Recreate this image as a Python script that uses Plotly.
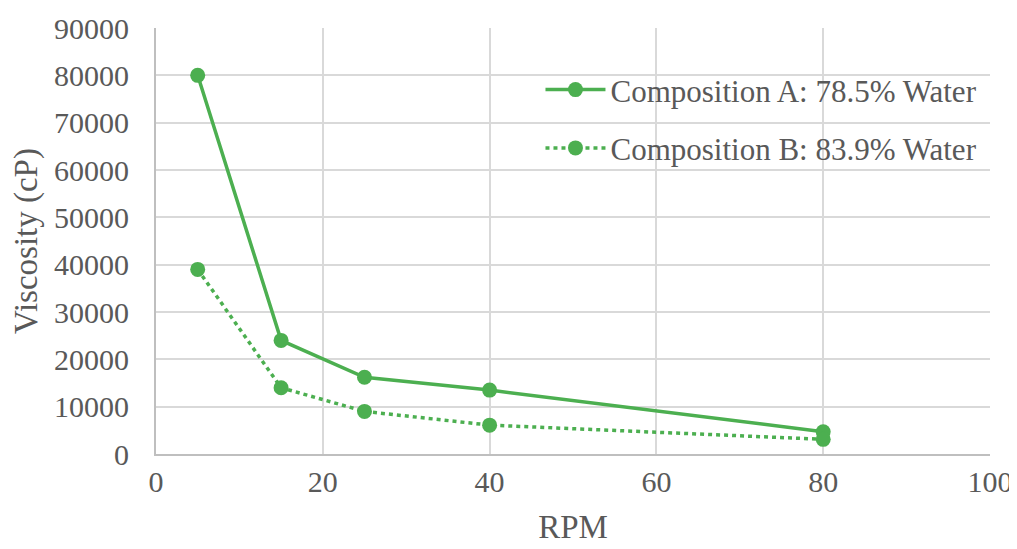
import plotly.graph_objects as go

rpm = [5, 15, 25, 40, 80]
comp_a = [80000, 24000, 16200, 13500, 4700]
comp_b = [39000, 14000, 9000, 6100, 3100]
name_a = "Composition A: 78.5% Water"
name_b = "Composition B: 83.9% Water"
x_ticks = [0, 20, 40, 60, 80, 100]
y_ticks = [0, 10000, 20000, 30000, 40000, 50000, 60000, 70000, 80000, 90000]
y_tick_text = ["0", "10000", "20000", "30000", "40000", "50000", "60000", "70000", "80000", "90000"]

GREEN = "#4caf50"
FONT = "Liberation Serif"
TXT = "#595959"

fig = go.Figure()
fig.add_trace(go.Scatter(x=rpm, y=comp_a, name=name_a, mode="lines+markers",
                         legendgroup="a",
                         line=dict(color=GREEN, width=3.5),
                         marker=dict(color=GREEN, size=15)))
fig.add_trace(go.Scatter(x=rpm, y=comp_b, name=name_b, mode="lines+markers",
                         legendgroup="b",
                         line=dict(color=GREEN, width=3.5, dash="4px,4px"),
                         marker=dict(color=GREEN, size=15)))

fig.update_layout(
    width=1009, height=541,
    margin=dict(l=148, r=27, t=20, b=95),
    paper_bgcolor="white", plot_bgcolor="white",
    font=dict(family=FONT, color=TXT, size=30),
    legend=dict(x=0.461, y=0.918, xanchor="left", yanchor="top",
                bgcolor="rgba(0,0,0,0)", font=dict(size=31, family=FONT, color=TXT),
                itemwidth=60, tracegroupgap=15),
    showlegend=True,
)
fig.update_xaxes(range=[0, 100], tickvals=x_ticks, showgrid=True, gridcolor="#d9d9d9",
                 gridwidth=1.5, showline=True, linecolor="#bfbfbf", linewidth=2,
                 zeroline=False, ticks="", ticklabelstandoff=0, automargin=False,
                 title=dict(text="RPM", font=dict(size=33, family=FONT, color=TXT), standoff=18))
fig.update_yaxes(range=[0, 90000], tickvals=y_ticks, ticktext=y_tick_text, showgrid=True,
                 gridcolor="#d9d9d9",
                 gridwidth=1.5, showline=True, linecolor="#bfbfbf", linewidth=2,
                 zeroline=False, ticks="", ticklabelstandoff=19, automargin=False,
                 title=dict(text="Viscosity (cP)", font=dict(size=33, family=FONT, color=TXT), standoff=10))

fig.write_html("out.html")
